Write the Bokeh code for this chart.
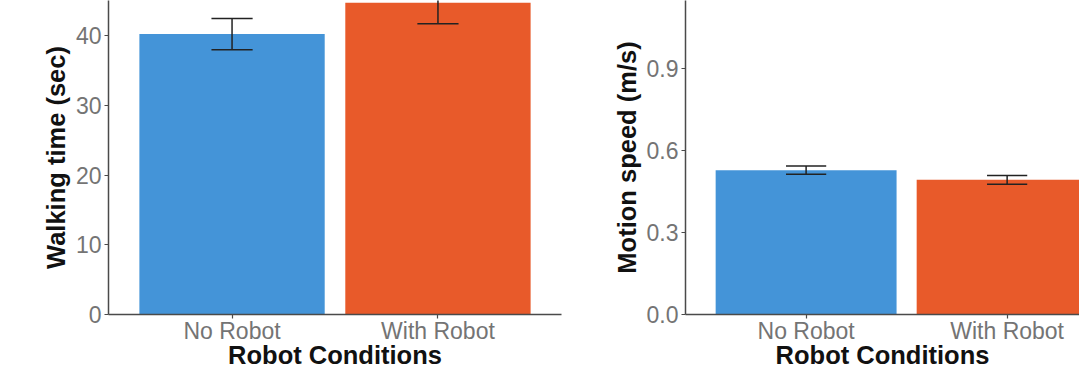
from bokeh.plotting import figure
from bokeh.layouts import row
from bokeh.models import FixedTicker, PrintfTickFormatter, Range1d
from bokeh.embed import file_html
from bokeh.resources import INLINE

# ---- data ----
categories = ["No Robot", "With Robot"]
bar_colors = ["#4494d8", "#e85a2a"]

walk_mean = [40.2, 44.7]
walk_err = [2.25, 3.0]
walk_ticks = [0, 10, 20, 30, 40]

speed_mean = [0.528, 0.493]
speed_err = [0.015, 0.016]
speed_ticks = [0.0, 0.3, 0.6, 0.9]

FONT = "Liberation Sans"
AXIS_COL = "#4a4a4a"
TICK_LBL = "#747474"


def make_panel(means, errs, yticks, ylabel, width, height, border_left,
               border_right, x_end, y_end, fmt=None):
    xs = [i + 1 for i in range(len(categories))]
    p = figure(width=width, height=height, output_backend="svg",
               toolbar_location=None, title=None,
               x_range=Range1d(0.4, x_end), y_range=Range1d(0, y_end),
               min_border_left=border_left, min_border_right=border_right,
               min_border_top=0, min_border_bottom=56)
    p.vbar(x=xs, top=means, bottom=0, width=0.9, color=bar_colors,
           line_color=None)
    lo = [m - e for m, e in zip(means, errs)]
    hi = [m + e for m, e in zip(means, errs)]
    p.segment(x0=xs, x1=xs, y0=lo, y1=hi, line_color="#222222",
              line_width=1.5)
    p.segment(x0=[x - 0.1 for x in xs], x1=[x + 0.1 for x in xs], y0=lo,
              y1=lo, line_color="#222222", line_width=1.5)
    p.segment(x0=[x - 0.1 for x in xs], x1=[x + 0.1 for x in xs], y0=hi,
              y1=hi, line_color="#222222", line_width=1.5)

    p.xgrid.visible = False
    p.ygrid.visible = False
    p.outline_line_color = None
    p.background_fill_color = "white"
    p.border_fill_color = "white"

    xa = p.xaxis[0]
    xa.ticker = FixedTicker(ticks=xs)
    xa.major_label_overrides = {x: c for x, c in zip(xs, categories)}
    xa.axis_label = "Robot Conditions"

    ya = p.yaxis[0]
    ya.ticker = FixedTicker(ticks=yticks)
    ya.axis_label = ylabel
    if fmt:
        ya.formatter = PrintfTickFormatter(format=fmt)

    for ax in (xa, ya):
        ax.axis_line_color = AXIS_COL
        ax.axis_line_width = 1.5
        ax.major_tick_line_color = AXIS_COL
        ax.major_tick_line_width = 1.2
        ax.major_tick_out = 4
        ax.major_tick_in = 0
        ax.minor_tick_line_color = None
        ax.major_label_text_font = FONT
        ax.major_label_text_font_size = "23px"
        ax.major_label_text_color = TICK_LBL
        ax.axis_label_text_font = FONT
        ax.axis_label_text_font_size = "25.5px"
        ax.axis_label_text_font_style = "bold"
        ax.axis_label_text_color = "#111111"
    xa.major_label_standoff = -1
    xa.axis_label_standoff = -6
    ya.major_label_standoff = 3
    ya.axis_label_standoff = 3
    return p


# frame 0..314 px tall; left ~6.975 px per second, right ~273 px per m/s
p1 = make_panel(walk_mean, walk_err, walk_ticks, "Walking time (sec)",
                width=590, height=371, border_left=108, border_right=29,
                x_end=2.6, y_end=45.02)
p2 = make_panel(speed_mean, speed_err, speed_ticks, "Motion speed (m/s)",
                width=489, height=371, border_left=95, border_right=0,
                x_end=2.36, y_end=1.149, fmt="%.1f")

layout = row(p1, p2)
open("out.html", "w").write(file_html(layout, INLINE))
